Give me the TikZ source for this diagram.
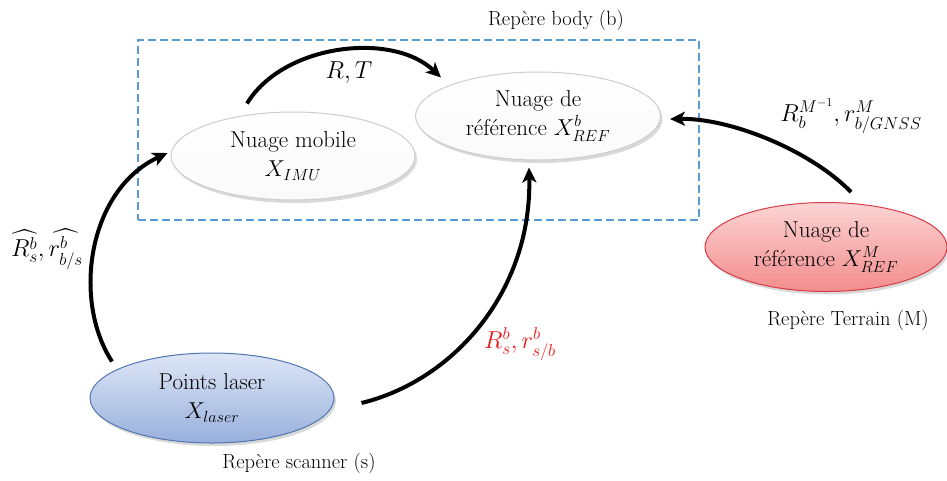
\RequirePackage{fix-cm}
\documentclass[tikz,border=0pt]{standalone}
\usepackage{amsmath}
\usepackage{fontspec}
\usetikzlibrary{arrows.meta,shapes.geometric,shadows,calc}
\definecolor{boxblue}{RGB}{91,155,213}
\definecolor{redlbl}{RGB}{240,20,20}
\definecolor{txt}{RGB}{0,0,0}
\tikzset{
  cloud/.style={ellipse, inner sep=0pt, align=center, text=txt,
    font=\fontsize{23}{29}\selectfont,
    drop shadow={opacity=0.3, shadow xshift=2pt, shadow yshift=-3pt}},
  whitecloud/.style={cloud, draw={rgb,255:red,205;green,205;blue,205}, line width=1pt,
    top color=white, bottom color={rgb,255:red,250;green,250;blue,250}},
  redcloud/.style={cloud, draw={rgb,255:red,215;green,60;blue,70}, line width=1pt,
    top color={rgb,255:red,252;green,212;blue,212}, bottom color={rgb,255:red,243;green,140;blue,140}},
  bluecloud/.style={cloud, draw={rgb,255:red,80;green,118;blue,178}, line width=1pt,
    top color={rgb,255:red,222;green,230;blue,246}, bottom color={rgb,255:red,152;green,176;blue,220}},
  link/.style={line width=4pt, -{Stealth[length=15pt,width=14pt,inset=4pt]}},
  frametxt/.style={text=txt, font=\fontsize{20.5}{24}\selectfont},
  mathlbl/.style={text=txt, font=\fontsize{24.5}{28}\selectfont},
  bodybox/.style={draw=boxblue, line width=2pt, dash pattern=on 8pt off 4pt}
}
\begin{document}
\begin{tikzpicture}[x=1pt,y=-1pt]
\useasboundingbox (0,0) rectangle (947,480);
% dashed body frame
\node[bodybox, minimum width=561pt, minimum height=180pt, inner sep=0pt, anchor=north west] (frame) at (137,39) {};
\node[frametxt] (bodylbl) at (556,20) {Repère body (b)};
% ellipses
\node[whitecloud, minimum width=244pt, minimum height=88pt] (mobile) at (293,156) {Nuage mobile\\$X_{IMU}$};
\node[whitecloud, minimum width=245pt, minimum height=88pt] (refb) at (538,116) {Nuage de\\référence $X^{b}_{REF}$};
\node[redcloud, minimum width=242pt, minimum height=89pt] (refM) at (826,247) {Nuage de\\référence $X^{M}_{REF}$};
\node[bluecloud, minimum width=244pt, minimum height=90pt] (laser) at (212,398) {Points laser\\$X_{laser}$};
% frame labels
\node[frametxt] (terrain) at (848,320) {Repère Terrain (M)};
\node[frametxt] (scanner) at (299,463) {Repère scanner (s)};
% arrow end points
\coordinate (a1s) at ($(mobile.north)+(-46,-8)$);
\coordinate (a1e) at ($(refb.north)+(-97,6)$);
\coordinate (a2s) at ($(laser.north)+(-100,9)$);
\coordinate (a2e) at ($(mobile.west)+(-3,-3)$);
\coordinate (a3s) at ($(laser.east)+(27,5)$);
\coordinate (a3e) at ($(refb.south)+(-9,7)$);
\coordinate (a4s) at ($(refM.north)+(25,-10)$);
\coordinate (a4e) at ($(refb.east)+(9,3)$);
% arrows
\draw[link] (a1s) .. controls (283,44) and (392,31) .. (a1e);
\draw[link] (a2s) .. controls (72,300) and (88,190) .. (a2e);
\draw[link] (a3s) .. controls (455,380) and (532,290) .. (a3e);
\draw[link] (a4s) .. controls (810,150) and (730,118) .. (a4e);
% arrow labels
\node[mathlbl] (lRT) at (349,73) {$R,T$};
\node[mathlbl] (lhat) at (47,249) {$\widehat{R^{b}_{s}},\widehat{r^{b}_{b/s}}$};
\node[mathlbl, text=redlbl] (lred) at (520,344) {$R^{b}_{s},r^{b}_{s/b}$};
\node[mathlbl] (lM) at (851,116) {$R_{b}^{M^{-1}},r^{M}_{b/GNSS}$};
\end{tikzpicture}
\end{document}
